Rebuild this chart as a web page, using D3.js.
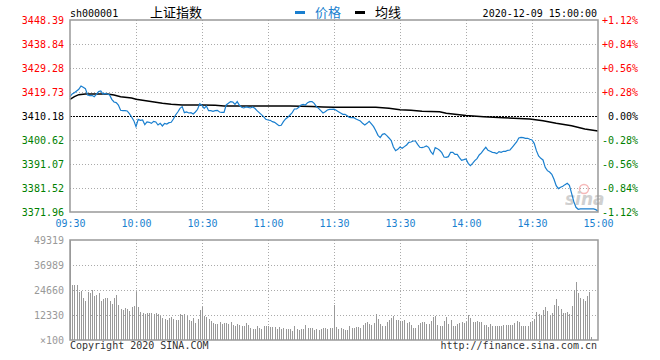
<!DOCTYPE html>
<html><head><meta charset="utf-8">
<script src="https://cdn.jsdelivr.net/npm/d3@7"></script>
<style>body{margin:0;background:#fff;} svg{display:block;}</style>
</head><body>
<svg id="chart" width="660" height="360"></svg>
<script>
const symbol = "sh000001";
const title = "上证指数";
const legendNames = ["价格", "均线"];
const timestamp = "2020-12-09 15:00:00";
const prevClose = 3410.18;
const priceTicks = [3448.39, 3438.84, 3429.28, 3419.73, 3410.18, 3400.62, 3391.07, 3381.52, 3371.96];
const pctTicks = ["+1.12%", "+0.84%", "+0.56%", "+0.28%", "0.00%", "-0.28%", "-0.56%", "-0.84%", "-1.12%"];
const timeTickMinutes = [0, 30, 60, 90, 120, 150, 180, 210, 240];
const timeTickLabels = ["09:30", "10:00", "10:30", "11:00", "11:30", "13:30", "14:00", "14:30", "15:00"];
const volumeTicks = [49319, 36989, 24660, 12330, 0];
const volumeTickLabels = ["49319", "36989", "24660", "12330", "×100"];
const copyrightText = "Copyright 2020 SINA.COM";
const siteText = "http://finance.sina.com.cn";

// price per trading minute (0 = 09:30 ... 240 = 15:00)
const priceValues = [
3417.88,3418.94,3419.47,3420.13,3420.80,3422.12,3421.59,3421.06,3418.54,3418.27,
3418.41,3417.88,3418.81,3419.87,3420.13,3418.94,3419.20,3418.94,3418.54,3416.82,
3415.75,3415.49,3414.56,3412.44,3412.31,3412.31,3412.17,3411.11,3409.78,3408.32,
3405.94,3408.85,3408.46,3408.59,3406.73,3407.79,3407.66,3407.26,3408.06,3407.79,
3406.60,3407.26,3406.20,3407.26,3407.00,3407.53,3407.66,3408.99,3410.58,3411.77,
3413.23,3413.90,3411.51,3411.77,3411.38,3411.51,3410.98,3411.77,3412.84,3415.09,
3414.43,3413.23,3414.16,3412.30,3412.30,3412.04,3412.30,3412.44,3411.77,3411.64,
3411.64,3414.56,3415.22,3415.89,3415.75,3414.83,3415.89,3414.43,3413.63,3413.37,
3413.76,3413.63,3413.37,3413.76,3413.23,3412.30,3411.51,3410.71,3409.92,3408.85,
3408.59,3408.46,3407.93,3407.66,3407.00,3406.33,3406.47,3407.93,3408.99,3409.65,
3410.58,3411.51,3412.97,3412.97,3413.63,3414.56,3414.83,3414.56,3415.49,3415.89,
3415.89,3415.22,3413.90,3413.23,3412.30,3411.38,3411.91,3412.57,3412.84,3412.84,
3412.90,3412.44,3411.91,3411.38,3410.85,3410.85,3410.31,3409.65,3409.52,3409.52,
3408.99,3408.59,3408.19,3407.26,3406.60,3407.26,3408.06,3407.00,3405.94,3404.34,
3402.49,3401.56,3402.88,3403.15,3402.35,3401.43,3400.36,3397.84,3396.38,3396.91,
3397.84,3397.31,3397.98,3398.64,3399.70,3399.83,3400.23,3400.23,3398.90,3397.71,
3397.58,3397.84,3398.24,3397.71,3395.99,3394.92,3397.58,3397.18,3396.52,3395.59,
3393.86,3393.73,3394.00,3395.72,3395.72,3394.92,3394.92,3393.60,3392.54,3392.80,
3393.10,3391.34,3390.41,3391.34,3392.40,3393.20,3394.66,3395.46,3396.65,3397.71,
3396.52,3396.12,3395.72,3395.59,3395.19,3395.99,3395.72,3396.12,3396.12,3396.52,
3396.65,3397.71,3398.77,3399.83,3401.43,3401.69,3401.56,3401.29,3401.29,3400.90,
3400.63,3399.30,3396.38,3394.26,3393.33,3392.67,3389.75,3388.42,3387.89,3386.96,
3384.97,3382.45,3381.26,3381.79,3382.19,3382.85,3383.38,3382.59,3379.40,3376.09,
3373.83,3373.03,3373.17,3373.17,3373.17,3373.17,3373.17,3373.17,3373.17,3372.90,
3372.37];

// average-price line, sampled
const avgMinutes = [0,2,4,7,17,20,23,28,30,36,42,46,51,60,66,70,100,110,115,120,139,145,150,155,160,168,171,175,180,188,197,209,215,221,228,234,240];
const avgValues = [3416.81,3417.88,3418.67,3418.94,3418.94,3418.50,3417.88,3417.35,3416.81,3416.02,3415.22,3414.83,3414.56,3414.56,3414.45,3414.16,3414.16,3414.00,3413.80,3413.63,3413.63,3413.23,3412.70,3412.50,3412.04,3411.90,3411.24,3410.85,3410.40,3409.92,3409.52,3408.99,3408.32,3407.26,3406.33,3405.01,3404.21];

// volume per minute (x100)
const volumeValues = [
49319,27126,27126,27126,23838,24331,20879,19235,23838,23345,
24660,21701,22194,23016,19235,20057,20550,20879,19235,17920,
20550,22194,17262,15289,14796,15947,15289,14303,16276,16769,
23838,16276,13974,13152,12659,13152,13152,13152,12659,13152,
12659,11837,11015,10357,9864,11015,11344,10357,9864,9864,
12659,12330,12659,12001,9864,9371,11015,8220,10357,14796,
16440,12001,11344,10357,9371,8220,7891,7891,8713,7891,
8220,8220,7891,8713,7398,6905,7727,7398,6905,6905,
8220,7398,6083,5425,5425,6905,5754,5425,6905,6905,
6905,6412,6412,6412,5425,6412,5425,6083,5425,5425,
5425,4439,6905,5425,4932,5425,5425,7398,6083,6083,
6083,4932,5425,4932,5425,5754,5754,5425,6083,5754,
17262,6576,5425,6083,5425,4932,4932,7069,6083,5754,
6576,6576,6083,7398,8220,9042,8056,7398,8549,12659,
10357,7891,7069,7069,9042,9864,11015,12001,9864,9864,
9371,9371,9864,8220,8713,7398,6083,6083,7398,8549,
9042,9042,8056,7727,9371,11344,12001,7398,7069,7069,
9371,11344,8056,9864,7069,7069,7727,8220,9042,8220,
9042,12330,11015,8713,8713,9371,8713,8713,7398,7398,
6412,7727,7069,6740,6740,7069,6740,7398,7398,7398,
7398,7398,8220,9371,8713,7069,7069,7069,7069,8713,
9371,10357,13645,12659,12330,14796,16276,14303,12330,13152,
17262,20221,16933,15289,13152,13152,13645,12659,16769,24660,
28600,23345,20550,20057,19400,21700,23838,1644];

const svg = d3.select("#chart");
const L = 70, R = 598, PT = 20, PB = 212, VT = 240, VB = 340;
const mono = "'DejaVu Sans Mono', 'Liberation Mono', monospace";
const cjk = "'Noto Sans CJK SC', sans-serif";
const blue = "#1a7fcf";
const gridC = "#aaaaaa";

const x = d3.scaleLinear().domain([0, 240]).range([L, R]);
const y = d3.scaleLinear().domain([priceTicks[priceTicks.length - 1], priceTicks[0]]).range([PB, PT]);
const yv = d3.scaleLinear().domain([0, volumeTicks[0]]).range([VB, VT]);
const crisp = v => Math.round(v) + 0.5;

// gridlines - price panel
const g = svg.append("g");
priceTicks.slice(1, -1).forEach(t => {
  if (t === prevClose) return;
  g.append("line").attr("x1", L).attr("x2", R).attr("y1", crisp(y(t))).attr("y2", crisp(y(t)))
    .attr("stroke", gridC).attr("stroke-dasharray", "1,2");
});
timeTickMinutes.slice(1, -1).forEach(m => {
  g.append("line").attr("x1", crisp(x(m))).attr("x2", crisp(x(m))).attr("y1", PT).attr("y2", PB)
    .attr("stroke", gridC).attr("stroke-dasharray", "1,2");
  g.append("line").attr("x1", crisp(x(m))).attr("x2", crisp(x(m))).attr("y1", VT).attr("y2", VB)
    .attr("stroke", gridC).attr("stroke-dasharray", "1,2");
});
volumeTicks.slice(1, -1).forEach(t => {
  g.append("line").attr("x1", L).attr("x2", R).attr("y1", crisp(yv(t))).attr("y2", crisp(yv(t)))
    .attr("stroke", gridC).attr("stroke-dasharray", "1,2");
});

// volume bars
svg.append("g").selectAll("rect").data(volumeValues).join("rect")
  .attr("x", (d, i) => Math.round(x(i)))
  .attr("width", 1)
  .attr("y", d => yv(d))
  .attr("height", d => VB - yv(d))
  .attr("fill", "#999")
  .attr("shape-rendering", "crispEdges");

// sina watermark
const wm = svg.append("g").attr("opacity", 0.55);
wm.append("circle").attr("cx", 584).attr("cy", 189).attr("r", 4.5).attr("fill", "none").attr("stroke", "#f08080").attr("stroke-width", 1.5);
wm.append("text").attr("x", 565).attr("y", 205).attr("font-family", "'DejaVu Sans', sans-serif")
  .attr("font-size", 17).attr("font-weight", "bold").attr("font-style", "italic").attr("fill", "#aaa").text("sina");

// prev close dashed line
svg.append("line").attr("x1", L).attr("x2", R).attr("y1", crisp(y(prevClose))).attr("y2", crisp(y(prevClose)))
  .attr("stroke", "#000").attr("stroke-width", 1).attr("stroke-dasharray", "2,1");

// average line
svg.append("path").datum(avgValues)
  .attr("d", d3.line().x((d, i) => x(avgMinutes[i])).y(d => y(d)))
  .attr("fill", "none").attr("stroke", "#000").attr("stroke-width", 1.5);

// price line
svg.append("path").datum(priceValues)
  .attr("d", d3.line().x((d, i) => x(i)).y(d => y(d)))
  .attr("fill", "none").attr("stroke", blue).attr("stroke-width", 1.2);

// frames
[[PT, PB], [VT, VB]].forEach(([t, b]) => {
  svg.append("rect").attr("x", L).attr("y", t).attr("width", R - L).attr("height", b - t)
    .attr("fill", "none").attr("stroke", "#999").attr("stroke-width", 1.5);
});

const colorFor = i => i < 4 ? "#f00" : (i === 4 ? "#000" : "#008000");

// left price axis
const ax = svg.append("g").attr("transform", `translate(${L},0)`)
  .call(d3.axisLeft(y).tickValues(priceTicks).tickSize(0).tickPadding(6).tickFormat(d => d.toFixed(2)));
ax.select(".domain").remove();
ax.selectAll("text").attr("font-family", mono).attr("font-size", 10).attr("fill", (d, i) => colorFor(i));

// right pct axis
const ar = svg.append("g").attr("transform", `translate(${R},0)`)
  .call(d3.axisRight(y).tickValues(priceTicks).tickSize(0).tickPadding(40).tickFormat((d, i) => pctTicks[i]));
ar.select(".domain").remove();
ar.selectAll("text").attr("text-anchor", "end").attr("font-family", mono).attr("font-size", 10).attr("fill", (d, i) => colorFor(i));

// time axis
const at = svg.append("g").attr("transform", `translate(0,${PB})`)
  .call(d3.axisBottom(x).tickValues(timeTickMinutes).tickSize(0).tickPadding(8).tickFormat((d, i) => timeTickLabels[i]));
at.select(".domain").remove();
at.selectAll("text").attr("font-family", mono).attr("font-size", 10).attr("fill", blue);

// volume axis
const av = svg.append("g").attr("transform", `translate(${L},0)`)
  .call(d3.axisLeft(yv).tickValues(volumeTicks).tickSize(0).tickPadding(6).tickFormat((d, i) => volumeTickLabels[i]));
av.select(".domain").remove();
av.selectAll("text").attr("font-family", mono).attr("font-size", 10).attr("fill", "#999");

// header
svg.append("text").attr("x", 70).attr("y", 16.5).attr("font-family", mono).attr("font-size", 10).attr("fill", "#000").text(symbol);
svg.append("text").attr("x", 150).attr("y", 17).attr("font-family", cjk).attr("font-size", 13).attr("fill", "#000").text(title);
svg.append("rect").attr("x", 295).attr("y", 11).attr("width", 10).attr("height", 3).attr("fill", blue);
svg.append("text").attr("x", 315).attr("y", 17).attr("font-family", cjk).attr("font-size", 13).attr("fill", blue).text(legendNames[0]);
svg.append("rect").attr("x", 355).attr("y", 11).attr("width", 10).attr("height", 3).attr("fill", "#000");
svg.append("text").attr("x", 375).attr("y", 17).attr("font-family", cjk).attr("font-size", 13).attr("fill", "#000").text(legendNames[1]);
svg.append("text").attr("x", 597).attr("y", 16.5).attr("text-anchor", "end").attr("font-family", mono).attr("font-size", 10).attr("fill", "#000").text(timestamp);

// footer
svg.append("text").attr("x", 70).attr("y", 349).attr("font-family", mono).attr("font-size", 10).attr("fill", "#333").text(copyrightText);
svg.append("text").attr("x", 597).attr("y", 349).attr("text-anchor", "end").attr("font-family", mono).attr("font-size", 10).attr("fill", "#333").text(siteText);
</script>
</body></html>
